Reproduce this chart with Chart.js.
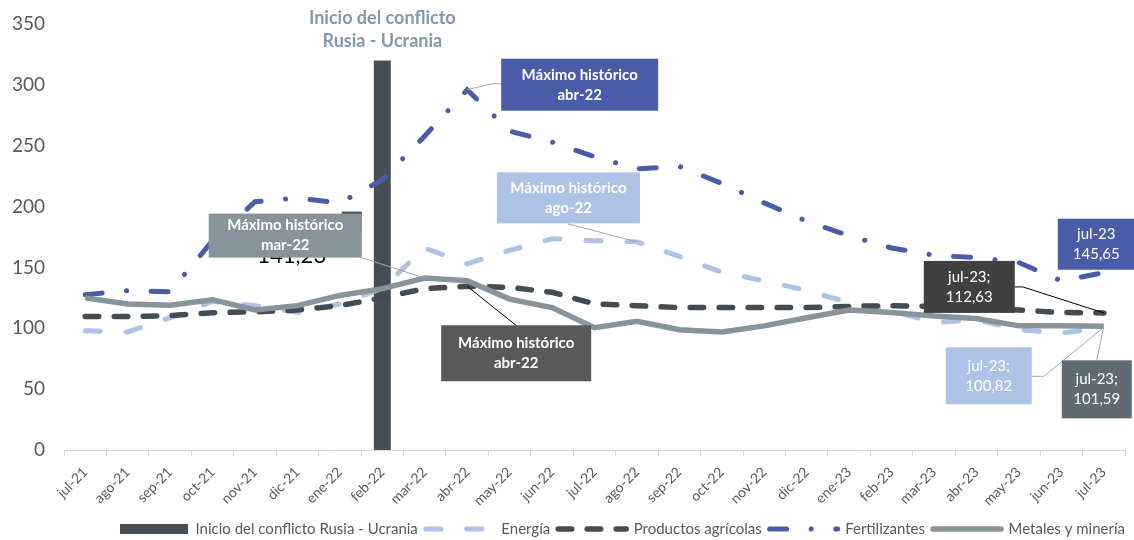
<!DOCTYPE html>
<html>
<head>
<meta charset="utf-8">
<script src="https://cdn.jsdelivr.net/npm/chart.js@4.4.0/dist/chart.umd.min.js"></script>
<style>
    html, body { margin: 0; padding: 0; background: #ffffff; }
    #grafico { display: block; }
</style>
</head>
<body>
<canvas id="grafico" width="1134" height="540"></canvas>
<script>
const meses = ['jul-21', 'ago-21', 'sep-21', 'oct-21', 'nov-21', 'dic-21', 'ene-22', 'feb-22', 'mar-22',
    'abr-22', 'may-22', 'jun-22', 'jul-22', 'ago-22', 'sep-22', 'oct-22', 'nov-22', 'dic-22', 'ene-23',
    'feb-23', 'mar-23', 'abr-23', 'may-23', 'jun-23', 'jul-23'];

// barra que marca el inicio del conflicto (feb-22)
const conflicto = [null, null, null, null, null, null, null, 320, null, null, null, null, null,
    null, null, null, null, null, null, null, null, null, null, null, null];

const energia = [98, 97, 108.7, 122, 118.6, 113, 120, 133, 166, 153, 164, 173.6, 172, 171, 159,
    146, 139, 131, 121, 114.5, 104.6, 107, 98.8, 96, 100.82];

const agricolas = [109.6, 109.6, 110.4, 112.8, 113.5, 115, 118.6, 125, 132.6, 134.5, 133.6, 129.6,
    120, 118.6, 117, 117, 117, 117, 118, 118.6, 118, 117, 115, 113, 112.63];

const fertilizantes = [127.5, 131, 130, 172, 204, 207, 203, 222, 258, 296, 262, 253, 241, 231, 233,
    219, 203, 188, 176, 166, 160, 158, 154, 139, 145.65];

const metales = [125, 120, 119, 123.5, 115, 118.6, 127, 132.6, 141.23, 139, 124, 117, 100.5, 105.7,
    98.8, 97, 102, 108.7, 115, 113, 110, 108, 102, 102, 101.59];

const yTicks = [0, 50, 100, 150, 200, 250, 300, 350];

const FUENTE = 'Lato, "Open Sans", sans-serif';
const GRIS_TEXTO = '#595959';

// cajas de texto: desplazamientos respecto al punto de la serie
const notas = [
    { serie: metales, i: 8, dx: -216, dy: -64.5, w: 153, h: 44, color: '#87949b',
      texto: ['Máximo histórico', 'mar-22'], bold: true, guia: [[-63, -20.5]], guiaColor: '#a6a6a6' },
    { serie: fertilizantes, i: 9, dx: 34, dy: -31, w: 157, h: 52, color: '#4a5ca8',
      texto: ['Máximo histórico', 'abr-22'], bold: true, guia: [[25, -6], [34, -6]], guiaColor: '#a6a6a6' },
    { serie: energia, i: 13, dx: -140, dy: -69.5, w: 143, h: 51, color: '#adc2e5',
      texto: ['Máximo histórico', 'ago-22'], bold: true, guia: [[-69, -18]], guiaColor: '#a6a6a6' },
    { serie: agricolas, i: 9, dx: -26, dy: 39, w: 150, h: 56, color: '#595959',
      texto: ['Máximo histórico', 'abr-22'], bold: true, guia: [[50, 40]], guiaColor: '#000000' },
    { serie: fertilizantes, i: 24, dx: -46, dy: -54, w: 77, h: 51, color: '#4a5ca8',
      texto: ['jul-23', '145,65'], bold: false, guia: [], guiaColor: '#a6a6a6' },
    { serie: agricolas, i: 24, dx: -180, dy: -52, w: 91, h: 52, color: '#404040',
      texto: ['jul-23;', '112,63'], bold: false, guia: [[-81, -26], [-89, -26]], guiaColor: '#000000' },
    { serie: energia, i: 24, dx: -158, dy: 20, w: 86, h: 57, color: '#adc2e5',
      texto: ['jul-23;', '100,82'], bold: false, guia: [[-60, 49], [-72, 49]], guiaColor: '#a6a6a6' },
    { serie: metales, i: 24, dx: -42, dy: 34, w: 70, h: 58, color: '#5f6b73',
      texto: ['jul-23;', '101,59'], bold: false, guia: [[-7, 34]], guiaColor: '#a6a6a6' }
];

const anotaciones = {
    id: 'anotaciones',
    afterLayout(chart) {
        // la leyenda del original queda algo mas abajo y pegada a la derecha
        const leyenda = chart.legend;
        leyenda.left += 8;
        leyenda.right += 8;
        leyenda.top += 6.5;
        leyenda.bottom += 6.5;
    },
    afterDatasetsDraw(chart) {
        const { ctx, scales: { x, y } } = chart;
        ctx.save();

        // titulo sobre la barra
        const bi = conflicto.findIndex(v => v !== null);
        const bx = x.getPixelForValue(bi);
        const by = y.getPixelForValue(conflicto[bi]);
        ctx.fillStyle = '#8497b0';
        ctx.font = 'bold 18px ' + FUENTE;
        ctx.textAlign = 'center';
        ctx.textBaseline = 'middle';
        ctx.fillText('Inicio del conflicto', bx, by - 42);
        ctx.fillText('Rusia - Ucrania', bx, by - 19);

        // etiqueta original tapada por la caja de mar-22
        const mx = x.getPixelForValue(8);
        const my = y.getPixelForValue(metales[8]);
        ctx.fillStyle = '#454e55';
        ctx.fillRect(mx - 83, my - 66.5, 20, 20);
        ctx.fillStyle = '#000000';
        ctx.font = '22px ' + FUENTE;
        ctx.textBaseline = 'alphabetic';
        ctx.fillText('141,23', mx - 133, my - 15.5);

        notas.forEach(n => {
            const px = x.getPixelForValue(n.i);
            const py = y.getPixelForValue(n.serie[n.i]);
            if (n.guia.length) {
                ctx.strokeStyle = n.guiaColor;
                ctx.lineWidth = 1;
                ctx.setLineDash([]);
                ctx.beginPath();
                ctx.moveTo(px, py);
                n.guia.forEach(p => ctx.lineTo(px + p[0], py + p[1]));
                ctx.stroke();
            }
            const bxl = px + n.dx, byt = py + n.dy;
            ctx.fillStyle = n.color;
            ctx.fillRect(bxl, byt, n.w, n.h);
            ctx.fillStyle = '#ffffff';
            ctx.font = (n.bold ? 'bold ' : '') + '15px ' + FUENTE;
            ctx.textAlign = 'center';
            ctx.textBaseline = 'middle';
            const cx = bxl + n.w / 2, cy = byt + n.h / 2;
            ctx.fillText(n.texto[0], cx, cy - 10);
            ctx.fillText(n.texto[1], cx, cy + 10);
        });
        ctx.restore();
    }
};

new Chart(document.getElementById('grafico'), {
    data: {
        labels: meses,
        datasets: [
            {
                type: 'bar',
                label: 'Inicio del conflicto Rusia - Ucrania',
                data: conflicto,
                backgroundColor: '#454e55',
                barPercentage: 0.4,
                categoryPercentage: 1,
                order: 5
            },
            {
                type: 'line',
                label: 'Energía',
                data: energia,
                borderColor: '#adc2e5',
                borderWidth: 5,
                borderDash: [15, 26],
                borderCapStyle: 'round',
                pointRadius: 0,
                tension: 0,
                order: 4
            },
            {
                type: 'line',
                label: 'Productos agrícolas',
                data: agricolas,
                borderColor: '#434c52',
                borderWidth: 5.5,
                borderDash: [13.5, 15.5],
                borderCapStyle: 'round',
                pointRadius: 0,
                tension: 0,
                order: 3
            },
            {
                type: 'line',
                label: 'Fertilizantes',
                data: fertilizantes,
                borderColor: '#4a5ca8',
                borderWidth: 5,
                borderDash: [17, 24.5, 0.1, 24.5],
                borderCapStyle: 'round',
                pointRadius: 0,
                tension: 0,
                order: 2
            },
            {
                type: 'line',
                label: 'Metales y minería',
                data: metales,
                borderColor: '#87949b',
                borderWidth: 5.5,
                pointRadius: 0,
                tension: 0,
                order: 1
            }
        ]
    },
    options: {
        responsive: false,
        animation: false,
        layout: { padding: { left: 0, right: 9, top: 24, bottom: 0 } },
        scales: {
            x: {
                offset: true,
                grid: {
                    display: true,
                    drawOnChartArea: false,
                    drawTicks: true,
                    tickLength: 6,
                    color: '#d9d9d9',
                    offset: true
                },
                border: { display: true, color: '#d9d9d9' },
                ticks: {
                    color: GRIS_TEXTO,
                    font: { family: FUENTE, size: 14 },
                    maxRotation: 45,
                    minRotation: 45,
                    autoSkip: false,
                    padding: 8
                },
                afterFit: scale => { scale.height = 57; }
            },
            y: {
                min: 0,
                max: 350,
                afterBuildTicks: scale => { scale.ticks = yTicks.map(v => ({ value: v })); },
                grid: { display: false, drawTicks: false },
                border: { display: false },
                ticks: {
                    color: GRIS_TEXTO,
                    font: { family: FUENTE, size: 19 },
                    padding: 19
                },
                afterFit: scale => {
                    scale.width = 64;
                    scale.paddingTop = 0;
                    scale.paddingBottom = 0;
                }
            }
        },
        plugins: {
            tooltip: { enabled: false },
            legend: {
                position: 'bottom',
                align: 'end',
                labels: {
                    usePointStyle: true,
                    pointStyleWidth: 68,
                    boxHeight: 10,
                    padding: 8,
                    color: GRIS_TEXTO,
                    font: { family: FUENTE, size: 15 },
                    generateLabels: chart => chart.data.datasets.map((ds, i) => ({
                        text: ds.label,
                        fillStyle: ds.type === 'bar' ? ds.backgroundColor : ds.borderColor,
                        strokeStyle: ds.type === 'bar' ? ds.backgroundColor : ds.borderColor,
                        lineWidth: ds.type === 'bar' ? 0 : ds.borderWidth,
                        lineDash: ds.borderDash || [],
                        lineCap: ds.type === 'bar' ? 'butt' : 'round',
                        pointStyle: ds.type === 'bar' ? 'rect' : 'line',
                        fontColor: GRIS_TEXTO,
                        hidden: false,
                        datasetIndex: i
                    }))
                }
            }
        }
    },
    plugins: [anotaciones]
});
</script>
</body>
</html>
